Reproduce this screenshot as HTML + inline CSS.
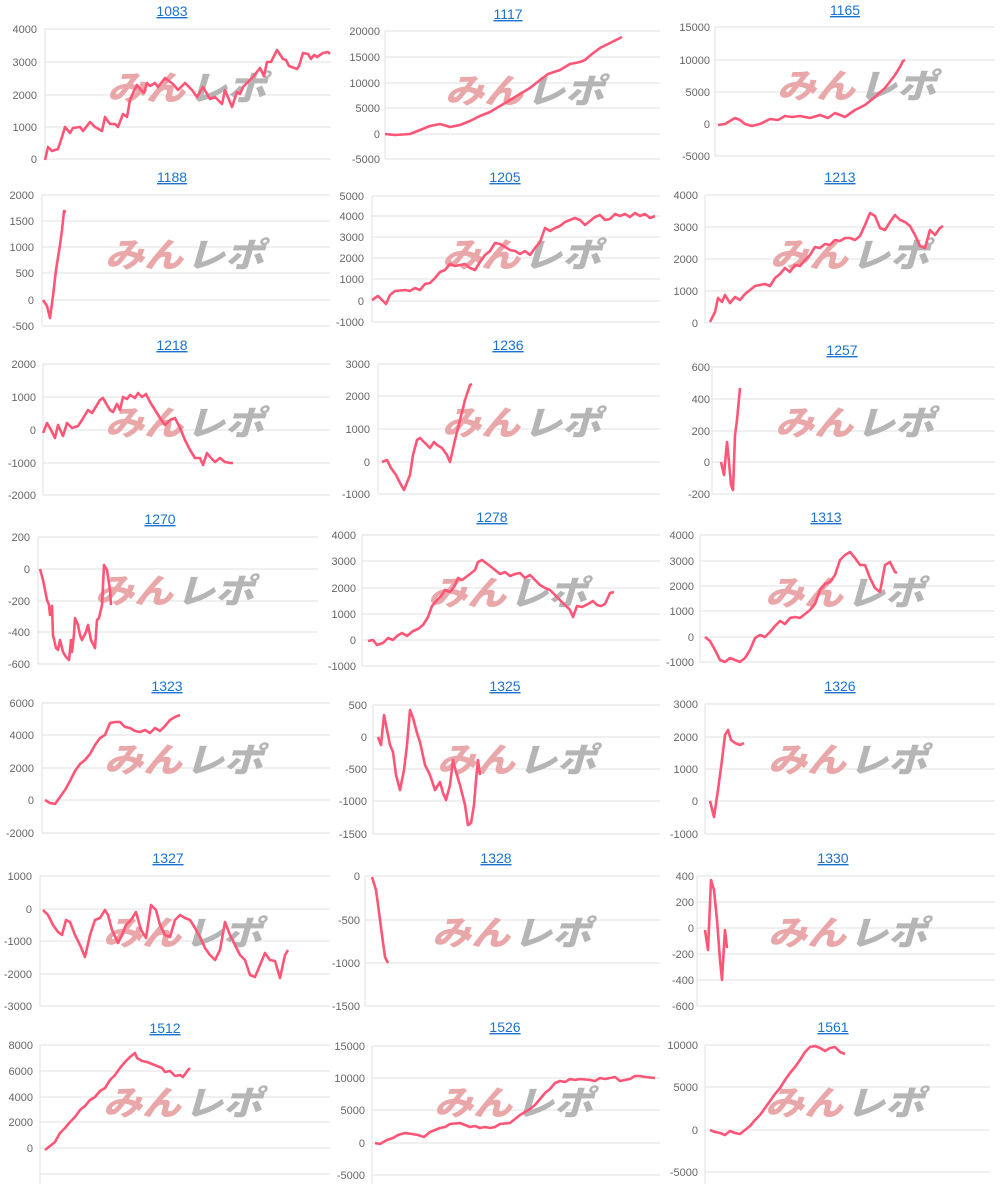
<!DOCTYPE html>
<html><head><meta charset="utf-8"><style>
body{margin:0;background:#fff;width:1000px;height:1184px;overflow:hidden}
svg{display:block}
.t{font:14px "Liberation Sans",sans-serif;fill:#1a73d0;text-anchor:middle;text-decoration:underline}
.l{font:11px "Liberation Sans",sans-serif;fill:#666;text-anchor:end}
.g{stroke:#e2e2e2;stroke-width:1}
.p{fill:none;stroke:#ff5577;stroke-width:2.6;stroke-linejoin:round}
.w1{font:italic 900 34px "Noto Sans CJK JP",sans-serif;fill:#e9a7a9}
.w2{font:italic 900 34px "Noto Sans CJK JP",sans-serif;fill:#b5b5b5}
</style></head><body>
<svg width="1000" height="1184" xmlns="http://www.w3.org/2000/svg">
<!-- 1083 -->
<text class="t" x="172" y="16">1083</text>
<g class="g"><line x1="45" x2="331" y1="29" y2="29"/><line x1="45" x2="331" y1="62" y2="62"/><line x1="45" x2="331" y1="95" y2="95"/><line x1="45" x2="331" y1="127" y2="127"/><line x1="45" x2="331" y1="159" y2="159"/><line x1="45" x2="45" y1="29" y2="159"/></g>
<g class="l"><text x="37" y="33">4000</text><text x="37" y="66">3000</text><text x="37" y="99">2000</text><text x="37" y="131">1000</text><text x="37" y="163">0</text></g>
<text class="w1" x="107" y="100" textLength="78" lengthAdjust="spacingAndGlyphs">みん</text><text class="w2" x="188" y="100" textLength="78" lengthAdjust="spacingAndGlyphs">レポ</text>
<polyline class="p" points="45,160 48,147 52,151 58,149 62,137 65,127 70,133 73,128 80,127 83,131 90,122 95,127 102,131 105,117 110,124 115,124 118,127 123,114 127,117 130,100 133,93 137,85 140,89 144,93 147,83 150,86 155,83 158,87 165,78 173,84 178,90 185,83 192,90 197,97 203,87 210,99 215,97 222,104 225,90 232,107 237,92 240,94 243,87 253,77 260,68 264,76 267,62 271,62 277,50 283,59 286,60 289,66 297,69 299,66 303,53 308,54 311,59 314,55 317,57 323,53 328,52 330,54"/>
<!-- 1117 -->
<text class="t" x="508" y="19">1117</text>
<g class="g"><line x1="385" x2="660" y1="31" y2="31"/><line x1="385" x2="660" y1="57" y2="57"/><line x1="385" x2="660" y1="83" y2="83"/><line x1="385" x2="660" y1="108" y2="108"/><line x1="385" x2="660" y1="134" y2="134"/><line x1="385" x2="660" y1="159" y2="159"/><line x1="385" x2="385" y1="31" y2="159"/></g>
<g class="l"><text x="380" y="35">20000</text><text x="380" y="61">15000</text><text x="380" y="87">10000</text><text x="380" y="112">5000</text><text x="380" y="138">0</text><text x="380" y="163">-5000</text></g>
<text class="w1" x="445" y="103" textLength="78" lengthAdjust="spacingAndGlyphs">みん</text><text class="w2" x="526" y="103" textLength="78" lengthAdjust="spacingAndGlyphs">レポ</text>
<polyline class="p" points="385,134 395,135 410,134 420,130 430,126 440,124 450,127 460,125 470,121 480,116 490,112 500,106 510,100 520,94 530,88 540,80 548,74 560,70 570,64 580,62 585,60 592,54 600,48 608,44 616,40 622,37"/>
<!-- 1165 -->
<text class="t" x="845" y="15">1165</text>
<g class="g"><line x1="715" x2="995" y1="27" y2="27"/><line x1="715" x2="995" y1="60" y2="60"/><line x1="715" x2="995" y1="92" y2="92"/><line x1="715" x2="995" y1="124" y2="124"/><line x1="715" x2="995" y1="156" y2="156"/><line x1="715" x2="715" y1="27" y2="156"/></g>
<g class="l"><text x="710" y="31">15000</text><text x="710" y="64">10000</text><text x="710" y="96">5000</text><text x="710" y="128">0</text><text x="710" y="160">-5000</text></g>
<text class="w1" x="777" y="98" textLength="78" lengthAdjust="spacingAndGlyphs">みん</text><text class="w2" x="858" y="98" textLength="78" lengthAdjust="spacingAndGlyphs">レポ</text>
<polyline class="p" points="718,125 725,124 730,121 735,118 740,120 745,124 752,126 760,124 770,119 778,120 785,116 792,117 800,116 810,118 820,115 828,118 835,113 845,117 855,110 865,105 875,97 885,88 895,75 900,67 903,61 905,60"/>
<!-- 1188 -->
<text class="t" x="172" y="182">1188</text>
<g class="g"><line x1="42" x2="330" y1="195" y2="195"/><line x1="42" x2="330" y1="221" y2="221"/><line x1="42" x2="330" y1="247" y2="247"/><line x1="42" x2="330" y1="273" y2="273"/><line x1="42" x2="330" y1="300" y2="300"/><line x1="42" x2="330" y1="326" y2="326"/><line x1="42" x2="42" y1="195" y2="326"/></g>
<g class="l"><text x="34" y="199">2000</text><text x="34" y="225">1500</text><text x="34" y="251">1000</text><text x="34" y="277">500</text><text x="34" y="304">0</text><text x="34" y="330">-500</text></g>
<text class="w1" x="105" y="267" textLength="78" lengthAdjust="spacingAndGlyphs">みん</text><text class="w2" x="186" y="267" textLength="78" lengthAdjust="spacingAndGlyphs">レポ</text>
<polyline class="p" points="43,300 47,306 50,318 53,296 56,270 60,245 62,230 64,211 66,212"/>
<!-- 1205 -->
<text class="t" x="505" y="182">1205</text>
<g class="g"><line x1="372" x2="660" y1="196" y2="196"/><line x1="372" x2="660" y1="216" y2="216"/><line x1="372" x2="660" y1="237" y2="237"/><line x1="372" x2="660" y1="258" y2="258"/><line x1="372" x2="660" y1="279" y2="279"/><line x1="372" x2="660" y1="301" y2="301"/><line x1="372" x2="660" y1="322" y2="322"/><line x1="372" x2="372" y1="196" y2="322"/></g>
<g class="l"><text x="364" y="200">5000</text><text x="364" y="220">4000</text><text x="364" y="241">3000</text><text x="364" y="262">2000</text><text x="364" y="283">1000</text><text x="364" y="305">0</text><text x="364" y="326">-1000</text></g>
<text class="w1" x="442" y="267" textLength="78" lengthAdjust="spacingAndGlyphs">みん</text><text class="w2" x="523" y="267" textLength="78" lengthAdjust="spacingAndGlyphs">レポ</text>
<polyline class="p" points="372,300 378,296 382,300 386,304 390,295 395,291 405,290 410,291 415,288 420,290 425,284 430,283 435,278 440,272 445,270 450,264 455,266 465,264 470,268 475,270 480,262 485,255 490,251 495,243 500,244 505,247 510,250 515,251 520,254 525,251 530,255 535,248 540,242 545,228 550,231 555,228 560,226 565,222 570,220 575,218 580,220 585,225 590,221 595,217 600,215 605,220 610,219 615,214 620,216 625,214 630,217 635,213 640,216 645,214 650,218 655,216"/>
<!-- 1213 -->
<text class="t" x="840" y="182">1213</text>
<g class="g"><line x1="705" x2="995" y1="195" y2="195"/><line x1="705" x2="995" y1="227" y2="227"/><line x1="705" x2="995" y1="259" y2="259"/><line x1="705" x2="995" y1="291" y2="291"/><line x1="705" x2="995" y1="323" y2="323"/><line x1="705" x2="705" y1="195" y2="323"/></g>
<g class="l"><text x="698" y="199">4000</text><text x="698" y="231">3000</text><text x="698" y="263">2000</text><text x="698" y="295">1000</text><text x="698" y="327">0</text></g>
<text class="w1" x="770" y="267" textLength="78" lengthAdjust="spacingAndGlyphs">みん</text><text class="w2" x="851" y="267" textLength="78" lengthAdjust="spacingAndGlyphs">レポ</text>
<polyline class="p" points="710,322 715,312 718,298 722,302 725,295 730,303 735,297 740,300 745,294 750,290 755,286 765,284 770,286 775,278 780,274 785,268 790,272 795,265 800,266 805,260 810,255 815,247 820,248 825,244 830,245 835,240 840,241 845,238 850,238 855,240 860,236 865,225 870,213 875,216 880,228 885,230 890,222 895,215 900,220 905,222 910,226 915,235 920,246 925,248 930,230 935,235 940,228 943,226"/>
<!-- 1218 -->
<text class="t" x="172" y="350">1218</text>
<g class="g"><line x1="43" x2="330" y1="364" y2="364"/><line x1="43" x2="330" y1="397" y2="397"/><line x1="43" x2="330" y1="430" y2="430"/><line x1="43" x2="330" y1="463" y2="463"/><line x1="43" x2="330" y1="495" y2="495"/><line x1="43" x2="43" y1="364" y2="495"/></g>
<g class="l"><text x="36" y="368">2000</text><text x="36" y="401">1000</text><text x="36" y="434">0</text><text x="36" y="467">-1000</text><text x="36" y="499">-2000</text></g>
<text class="w1" x="105" y="435" textLength="78" lengthAdjust="spacingAndGlyphs">みん</text><text class="w2" x="186" y="435" textLength="78" lengthAdjust="spacingAndGlyphs">レポ</text>
<polyline class="p" points="43,433 47,423 51,430 55,438 58,425 63,436 67,423 72,428 78,426 82,420 88,410 92,413 97,405 100,400 103,398 107,405 110,410 113,412 117,404 120,410 123,397 127,399 130,395 135,398 138,393 142,397 146,394 150,402 155,410 160,418 165,425 170,420 175,418 180,428 185,440 190,450 195,458 200,458 203,465 207,453 211,458 215,462 220,458 225,462 230,463 233,463"/>
<!-- 1236 -->
<text class="t" x="508" y="350">1236</text>
<g class="g"><line x1="378" x2="660" y1="364" y2="364"/><line x1="378" x2="660" y1="396" y2="396"/><line x1="378" x2="660" y1="429" y2="429"/><line x1="378" x2="660" y1="462" y2="462"/><line x1="378" x2="660" y1="494" y2="494"/><line x1="378" x2="378" y1="364" y2="494"/></g>
<g class="l"><text x="370" y="368">3000</text><text x="370" y="400">2000</text><text x="370" y="433">1000</text><text x="370" y="466">0</text><text x="370" y="498">-1000</text></g>
<text class="w1" x="442" y="435" textLength="78" lengthAdjust="spacingAndGlyphs">みん</text><text class="w2" x="523" y="435" textLength="78" lengthAdjust="spacingAndGlyphs">レポ</text>
<polyline class="p" points="382,462 387,460 391,468 396,475 400,483 404,490 406,485 410,475 413,455 417,440 420,438 425,443 430,448 434,442 437,445 442,448 447,455 450,462 455,440 460,420 465,400 470,385 472,384"/>
<!-- 1257 -->
<text class="t" x="842" y="355">1257</text>
<g class="g"><line x1="712" x2="995" y1="367" y2="367"/><line x1="712" x2="995" y1="399" y2="399"/><line x1="712" x2="995" y1="431" y2="431"/><line x1="712" x2="995" y1="462" y2="462"/><line x1="712" x2="995" y1="494" y2="494"/><line x1="712" x2="712" y1="367" y2="494"/></g>
<g class="l"><text x="710" y="371">600</text><text x="710" y="403">400</text><text x="710" y="435">200</text><text x="710" y="466">0</text><text x="710" y="498">-200</text></g>
<text class="w1" x="775" y="435" textLength="78" lengthAdjust="spacingAndGlyphs">みん</text><text class="w2" x="856" y="435" textLength="78" lengthAdjust="spacingAndGlyphs">レポ</text>
<polyline class="p" points="721,462 724,475 727,442 729,462 731,485 733,490 735,435 737,420 740,388"/>
<!-- 1270 -->
<text class="t" x="160" y="524">1270</text>
<g class="g"><line x1="38" x2="318" y1="537" y2="537"/><line x1="38" x2="318" y1="569" y2="569"/><line x1="38" x2="318" y1="601" y2="601"/><line x1="38" x2="318" y1="632" y2="632"/><line x1="38" x2="318" y1="664" y2="664"/><line x1="38" x2="38" y1="537" y2="664"/></g>
<g class="l"><text x="30" y="541">200</text><text x="30" y="573">0</text><text x="30" y="605">-200</text><text x="30" y="636">-400</text><text x="30" y="668">-600</text></g>
<text class="w1" x="95" y="603" textLength="78" lengthAdjust="spacingAndGlyphs">みん</text><text class="w2" x="176" y="603" textLength="78" lengthAdjust="spacingAndGlyphs">レポ</text>
<polyline class="p" points="40,569 43,580 47,600 49,605 50,615 52,606 53,635 56,648 58,650 60,640 63,652 66,657 69,660 71,640 72,652 74,634 75,618 78,625 80,635 82,640 86,632 88,625 91,640 95,648 97,620 99,618 102,605 104,565 107,570 110,590 111,605"/>
<!-- 1278 -->
<text class="t" x="492" y="522">1278</text>
<g class="g"><line x1="362" x2="660" y1="535" y2="535"/><line x1="362" x2="660" y1="561" y2="561"/><line x1="362" x2="660" y1="588" y2="588"/><line x1="362" x2="660" y1="614" y2="614"/><line x1="362" x2="660" y1="640" y2="640"/><line x1="362" x2="660" y1="666" y2="666"/><line x1="362" x2="362" y1="535" y2="666"/></g>
<g class="l"><text x="356" y="539">4000</text><text x="356" y="565">3000</text><text x="356" y="592">2000</text><text x="356" y="618">1000</text><text x="356" y="644">0</text><text x="356" y="670">-1000</text></g>
<text class="w1" x="428" y="605" textLength="78" lengthAdjust="spacingAndGlyphs">みん</text><text class="w2" x="509" y="605" textLength="78" lengthAdjust="spacingAndGlyphs">レポ</text>
<polyline class="p" points="368,641 373,640 377,645 383,643 388,638 393,640 397,636 402,633 407,636 413,631 418,629 423,625 428,617 432,606 437,600 441,596 445,590 450,592 454,587 458,578 462,580 466,577 470,574 475,570 478,562 482,560 486,563 490,566 495,570 500,574 505,572 510,576 515,574 520,573 525,578 530,575 535,580 540,585 545,588 550,590 555,595 560,600 565,605 570,610 573,617 577,606 582,607 588,604 593,601 597,605 601,606 605,604 610,593 614,592"/>
<!-- 1313 -->
<text class="t" x="826" y="522">1313</text>
<g class="g"><line x1="700" x2="995" y1="535" y2="535"/><line x1="700" x2="995" y1="561" y2="561"/><line x1="700" x2="995" y1="586" y2="586"/><line x1="700" x2="995" y1="611" y2="611"/><line x1="700" x2="995" y1="637" y2="637"/><line x1="700" x2="995" y1="662" y2="662"/><line x1="700" x2="700" y1="535" y2="662"/></g>
<g class="l"><text x="694" y="539">4000</text><text x="694" y="565">3000</text><text x="694" y="590">2000</text><text x="694" y="615">1000</text><text x="694" y="641">0</text><text x="694" y="666">-1000</text></g>
<text class="w1" x="765" y="605" textLength="78" lengthAdjust="spacingAndGlyphs">みん</text><text class="w2" x="846" y="605" textLength="78" lengthAdjust="spacingAndGlyphs">レポ</text>
<polyline class="p" points="705,637 710,641 715,650 720,660 725,662 730,658 735,660 740,662 745,658 750,650 755,638 760,635 765,637 770,632 775,626 780,621 785,624 790,618 795,617 800,618 805,614 810,610 815,604 820,590 825,584 830,582 835,575 840,560 845,555 850,552 855,558 860,565 865,565 870,578 875,588 880,592 885,565 890,562 895,572 897,573"/>
<!-- 1323 -->
<text class="t" x="167" y="691">1323</text>
<g class="g"><line x1="42" x2="330" y1="703" y2="703"/><line x1="42" x2="330" y1="735" y2="735"/><line x1="42" x2="330" y1="768" y2="768"/><line x1="42" x2="330" y1="800" y2="800"/><line x1="42" x2="330" y1="833" y2="833"/><line x1="42" x2="42" y1="703" y2="833"/></g>
<g class="l"><text x="34" y="707">6000</text><text x="34" y="739">4000</text><text x="34" y="772">2000</text><text x="34" y="804">0</text><text x="34" y="837">-2000</text></g>
<text class="w1" x="104" y="772" textLength="78" lengthAdjust="spacingAndGlyphs">みん</text><text class="w2" x="185" y="772" textLength="78" lengthAdjust="spacingAndGlyphs">レポ</text>
<polyline class="p" points="45,800 50,803 55,804 60,797 65,790 70,781 75,771 80,764 85,760 90,754 95,745 100,738 105,735 110,723 115,722 120,722 125,727 130,728 135,731 140,732 145,730 150,733 155,728 160,731 165,726 170,720 175,717 180,715"/>
<!-- 1325 -->
<text class="t" x="505" y="691">1325</text>
<g class="g"><line x1="373" x2="660" y1="705" y2="705"/><line x1="373" x2="660" y1="737" y2="737"/><line x1="373" x2="660" y1="769" y2="769"/><line x1="373" x2="660" y1="801" y2="801"/><line x1="373" x2="660" y1="834" y2="834"/><line x1="373" x2="373" y1="705" y2="834"/></g>
<g class="l"><text x="367" y="709">500</text><text x="367" y="741">0</text><text x="367" y="773">-500</text><text x="367" y="805">-1000</text><text x="367" y="838">-1500</text></g>
<text class="w1" x="437" y="772" textLength="78" lengthAdjust="spacingAndGlyphs">みん</text><text class="w2" x="518" y="772" textLength="78" lengthAdjust="spacingAndGlyphs">レポ</text>
<polyline class="p" points="378,737 381,745 384,715 387,730 390,745 393,752 396,775 400,790 404,770 407,745 410,710 413,718 417,733 420,742 425,765 430,775 435,790 440,782 443,793 446,800 450,785 453,760 456,772 460,785 465,805 468,825 471,823 474,805 476,780 478,760 480,775"/>
<!-- 1326 -->
<text class="t" x="840" y="691">1326</text>
<g class="g"><line x1="705" x2="995" y1="704" y2="704"/><line x1="705" x2="995" y1="737" y2="737"/><line x1="705" x2="995" y1="769" y2="769"/><line x1="705" x2="995" y1="801" y2="801"/><line x1="705" x2="995" y1="834" y2="834"/><line x1="705" x2="705" y1="704" y2="834"/></g>
<g class="l"><text x="698" y="708">3000</text><text x="698" y="741">2000</text><text x="698" y="773">1000</text><text x="698" y="805">0</text><text x="698" y="838">-1000</text></g>
<text class="w1" x="768" y="772" textLength="78" lengthAdjust="spacingAndGlyphs">みん</text><text class="w2" x="849" y="772" textLength="78" lengthAdjust="spacingAndGlyphs">レポ</text>
<polyline class="p" points="710,801 714,817 718,790 722,760 725,735 728,730 731,740 735,743 740,745 744,743"/>
<!-- 1327 -->
<text class="t" x="168" y="863">1327</text>
<g class="g"><line x1="40" x2="330" y1="876" y2="876"/><line x1="40" x2="330" y1="909" y2="909"/><line x1="40" x2="330" y1="941" y2="941"/><line x1="40" x2="330" y1="974" y2="974"/><line x1="40" x2="330" y1="1006" y2="1006"/><line x1="40" x2="40" y1="876" y2="1006"/></g>
<g class="l"><text x="32" y="880">1000</text><text x="32" y="913">0</text><text x="32" y="945">-1000</text><text x="32" y="978">-2000</text><text x="32" y="1010">-3000</text></g>
<text class="w1" x="103" y="945" textLength="78" lengthAdjust="spacingAndGlyphs">みん</text><text class="w2" x="184" y="945" textLength="78" lengthAdjust="spacingAndGlyphs">レポ</text>
<polyline class="p" points="43,910 48,915 53,925 58,932 62,935 66,920 70,922 75,935 80,945 85,957 90,935 95,920 100,918 105,910 108,915 112,930 118,943 122,935 126,925 131,920 136,912 141,930 146,938 151,905 156,910 160,925 165,935 170,937 175,920 180,915 185,918 190,920 195,928 200,937 205,948 210,955 215,960 220,950 225,922 230,935 235,945 240,955 245,960 250,975 255,977 260,965 265,953 270,960 275,961 280,978 285,955 288,950"/>
<!-- 1328 -->
<text class="t" x="496" y="863">1328</text>
<g class="g"><line x1="365" x2="660" y1="876" y2="876"/><line x1="365" x2="660" y1="920" y2="920"/><line x1="365" x2="660" y1="963" y2="963"/><line x1="365" x2="660" y1="1006" y2="1006"/><line x1="365" x2="365" y1="876" y2="1006"/></g>
<g class="l"><text x="360" y="880">0</text><text x="360" y="924">-500</text><text x="360" y="967">-1000</text><text x="360" y="1010">-1500</text></g>
<text class="w1" x="432" y="945" textLength="78" lengthAdjust="spacingAndGlyphs">みん</text><text class="w2" x="513" y="945" textLength="78" lengthAdjust="spacingAndGlyphs">レポ</text>
<polyline class="p" points="372,877 376,890 379,912 382,935 385,957 388,963"/>
<!-- 1330 -->
<text class="t" x="833" y="863">1330</text>
<g class="g"><line x1="697" x2="995" y1="876" y2="876"/><line x1="697" x2="995" y1="902" y2="902"/><line x1="697" x2="995" y1="928" y2="928"/><line x1="697" x2="995" y1="954" y2="954"/><line x1="697" x2="995" y1="980" y2="980"/><line x1="697" x2="995" y1="1006" y2="1006"/><line x1="697" x2="697" y1="876" y2="1006"/></g>
<g class="l"><text x="694" y="880">400</text><text x="694" y="906">200</text><text x="694" y="932">0</text><text x="694" y="958">-200</text><text x="694" y="984">-400</text><text x="694" y="1010">-600</text></g>
<text class="w1" x="768" y="945" textLength="78" lengthAdjust="spacingAndGlyphs">みん</text><text class="w2" x="849" y="945" textLength="78" lengthAdjust="spacingAndGlyphs">レポ</text>
<polyline class="p" points="705,930 708,950 711,880 714,890 717,920 720,960 722,980 724,945 725,930 727,948"/>
<!-- 1512 -->
<text class="t" x="165" y="1033">1512</text>
<g class="g"><line x1="40" x2="330" y1="1045" y2="1045"/><line x1="40" x2="330" y1="1071" y2="1071"/><line x1="40" x2="330" y1="1097" y2="1097"/><line x1="40" x2="330" y1="1122" y2="1122"/><line x1="40" x2="330" y1="1148" y2="1148"/><line x1="40" x2="330" y1="1174" y2="1174"/><line x1="40" x2="40" y1="1045" y2="1184"/></g>
<g class="l"><text x="33" y="1049">8000</text><text x="33" y="1075">6000</text><text x="33" y="1101">4000</text><text x="33" y="1126">2000</text><text x="33" y="1152">0</text></g>
<text class="w1" x="103" y="1115" textLength="78" lengthAdjust="spacingAndGlyphs">みん</text><text class="w2" x="184" y="1115" textLength="78" lengthAdjust="spacingAndGlyphs">レポ</text>
<polyline class="p" points="45,1150 50,1146 55,1142 60,1133 65,1128 70,1122 75,1117 80,1110 85,1106 90,1100 95,1097 100,1091 105,1088 110,1080 115,1075 120,1068 125,1062 130,1057 135,1053 137,1058 142,1061 147,1062 152,1064 157,1066 162,1068 165,1072 170,1071 175,1076 180,1075 183,1077 188,1070 190,1068"/>
<!-- 1526 -->
<text class="t" x="505" y="1032">1526</text>
<g class="g"><line x1="372" x2="660" y1="1046" y2="1046"/><line x1="372" x2="660" y1="1078" y2="1078"/><line x1="372" x2="660" y1="1110" y2="1110"/><line x1="372" x2="660" y1="1143" y2="1143"/><line x1="372" x2="660" y1="1175" y2="1175"/><line x1="372" x2="372" y1="1046" y2="1184"/></g>
<g class="l"><text x="365" y="1050">15000</text><text x="365" y="1082">10000</text><text x="365" y="1114">5000</text><text x="365" y="1147">0</text><text x="365" y="1179">-5000</text></g>
<text class="w1" x="434" y="1115" textLength="78" lengthAdjust="spacingAndGlyphs">みん</text><text class="w2" x="515" y="1115" textLength="78" lengthAdjust="spacingAndGlyphs">レポ</text>
<polyline class="p" points="375,1143 380,1144 387,1140 393,1138 398,1135 405,1133 412,1134 418,1135 424,1137 430,1132 435,1130 440,1128 445,1127 450,1124 460,1123 465,1125 470,1127 475,1126 480,1128 485,1127 490,1128 495,1127 500,1124 510,1123 515,1119 520,1115 525,1112 530,1109 535,1105 540,1099 545,1093 550,1089 555,1083 560,1081 565,1082 570,1079 575,1080 580,1079 590,1080 595,1081 600,1078 605,1079 610,1078 615,1077 620,1081 625,1080 630,1079 635,1076 640,1076 645,1077 655,1078"/>
<!-- 1561 -->
<text class="t" x="833" y="1032">1561</text>
<g class="g"><line x1="705" x2="990" y1="1045" y2="1045"/><line x1="705" x2="990" y1="1087" y2="1087"/><line x1="705" x2="990" y1="1130" y2="1130"/><line x1="705" x2="990" y1="1172" y2="1172"/><line x1="705" x2="705" y1="1045" y2="1184"/></g>
<g class="l"><text x="698" y="1049">10000</text><text x="698" y="1091">5000</text><text x="698" y="1134">0</text><text x="698" y="1176">-5000</text></g>
<text class="w1" x="765" y="1115" textLength="78" lengthAdjust="spacingAndGlyphs">みん</text><text class="w2" x="846" y="1115" textLength="78" lengthAdjust="spacingAndGlyphs">レポ</text>
<polyline class="p" points="710,1130 715,1132 720,1133 725,1135 730,1131 735,1133 740,1134 745,1130 750,1126 755,1120 760,1115 765,1108 770,1101 775,1094 780,1088 785,1080 790,1073 795,1067 800,1060 805,1052 810,1047 815,1046 820,1048 825,1051 830,1048 835,1047 840,1052 845,1054"/>
</svg>
</body></html>
